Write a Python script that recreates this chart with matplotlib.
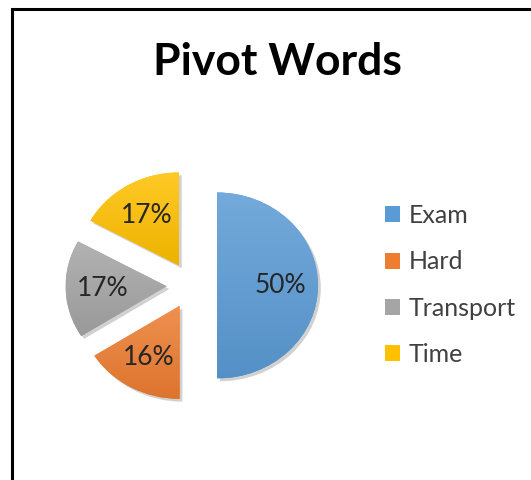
import matplotlib
matplotlib.use('Agg')
import numpy as np
import matplotlib.pyplot as plt
from matplotlib.patches import Rectangle
from matplotlib.colors import to_rgb
import matplotlib.patheffects as pe

# data
categories = ['Exam', 'Hard', 'Transport', 'Time']
shares = [50, 16, 17, 17]
colors = ['#5B9BD5', '#ED7D31', '#A5A5A5', '#FFC000']

W, H = 531, 480
fig = plt.figure(figsize=(W / 100, H / 100), dpi=100)
fig.patch.set_facecolor('white')

# pie is a bit wider than tall in the original, so aspect is left free
ax = fig.add_axes([40.3 / W, (H - 425) / H, 303 / W, 279 / H])
wedges, texts, autotexts = ax.pie(
    shares, colors=colors, startangle=90, counterclock=False,
    explode=[0.25] * len(shares), autopct='%1.0f%%', pctdistance=0.63,
    wedgeprops=dict(linewidth=0),
    textprops=dict(fontsize=19, color='#262626', family='Lato', zorder=5))
ax.set_aspect('auto')
ax.axis('off')

# soft shadow + vertical gradient (lighter top, darker bottom) per slice
for w, c in zip(wedges, colors):
    w.set_path_effects([pe.SimplePatchShadow(offset=(2, -2), shadow_rgbFace='#000000', alpha=0.18),
                        pe.Normal()])
    base = np.array(to_rgb(c))
    top = base + (1 - base) * 0.15
    bot = base * 0.93
    t = np.linspace(0, 1, 64)[:, None]
    grad = (top * (1 - t) + bot * t)[:, None, :]
    ext = w.get_path().get_extents()
    im = ax.imshow(grad, extent=(ext.x0, ext.x1, ext.y0, ext.y1), origin='upper',
                   aspect='auto', zorder=2, interpolation='bilinear')
    im.set_clip_path(w)
ax.set_aspect('auto')
ax.set_xlim(-1.5, 1.5)
ax.set_ylim(-1.5, 1.5)

fig.text(277 / W, 1 - 62 / H, 'Pivot Words', ha='center', va='center',
         fontsize=32, fontweight='bold', family='Lato', color='black')

leg = fig.legend(wedges, categories, loc='center left',
                 bbox_to_anchor=(385 / W, 1 - 285 / H), frameon=False,
                 prop=dict(family='Lato', size=18), labelcolor='#404040',
                 handlelength=0.6, handleheight=0.6, handletextpad=0.35,
                 labelspacing=0.93, borderpad=0, borderaxespad=0)
for h in leg.legend_handles:
    h.set_path_effects([])

# chart border (only left and top edges show in the crop)
fig.patches.append(Rectangle((12 / W, -0.1), 1.2, 1 - 9 / H + 0.1,
                             transform=fig.transFigure, fill=False,
                             edgecolor='black', linewidth=2.2))

fig.savefig('out.png', dpi=100)
